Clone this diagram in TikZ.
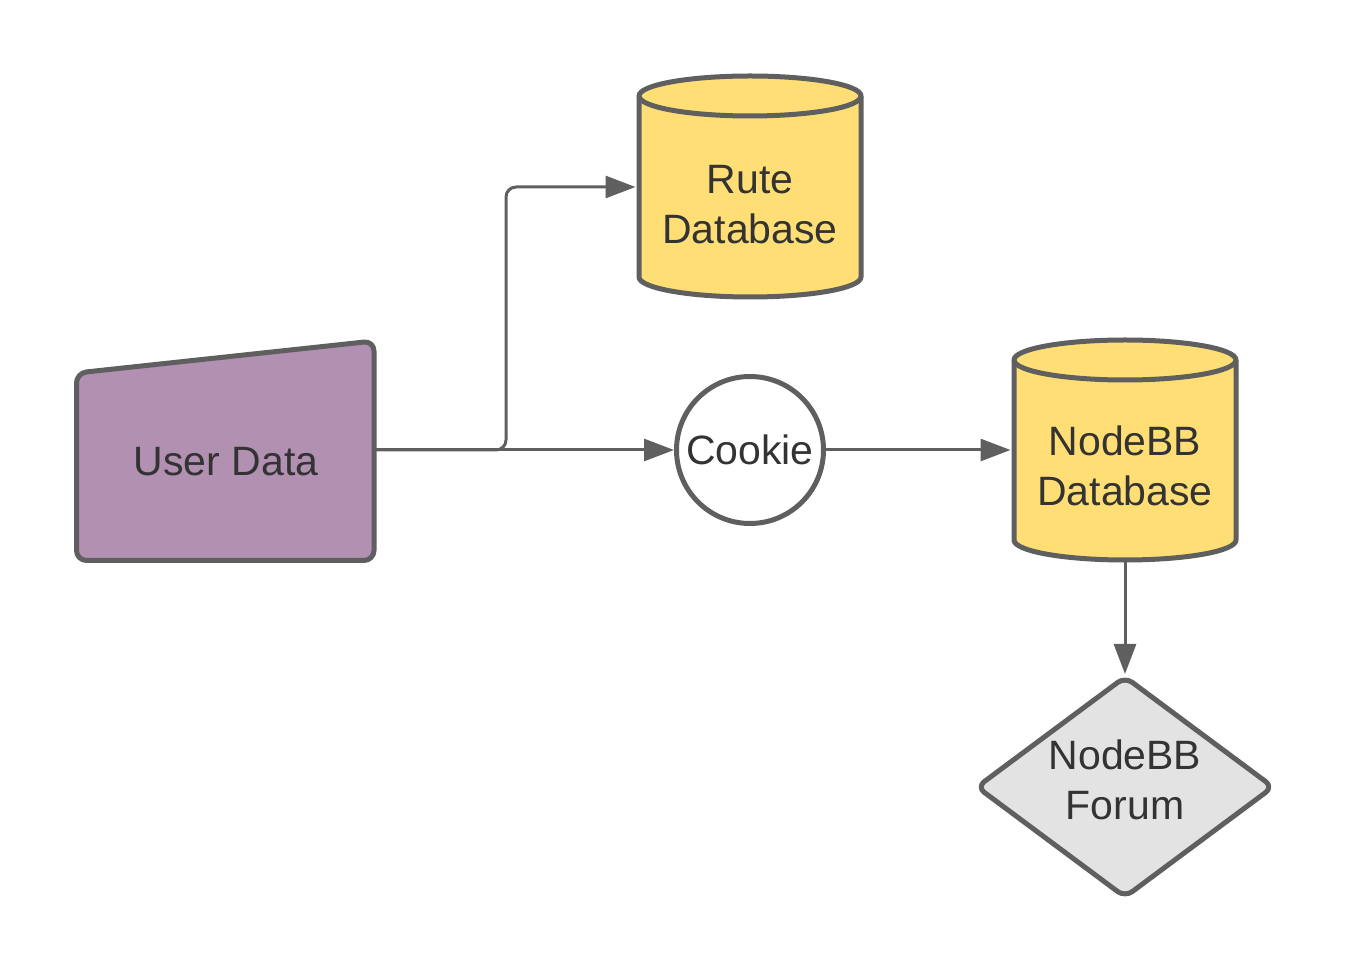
\documentclass[tikz,border=0pt]{standalone}
\usepackage{fontspec}
\setmainfont{Liberation Sans}
\usetikzlibrary{arrows.meta,calc}
\definecolor{strokegray}{HTML}{5F5F5F}
\definecolor{dbyellow}{HTML}{FFDF75}
\definecolor{udpurple}{HTML}{B290B2}
\definecolor{forumgray}{HTML}{E3E3E3}
\definecolor{txtgray}{HTML}{333333}
\newcommand{\dbcyl}[4]{% cx, ytop, ybot, fill
  \filldraw[shapeline,fill=#4] ($(#1-111,#2)$) -- ($(#1-111,#3)$)
    arc[start angle=180,end angle=360,x radius=111,y radius=20]
    -- ($(#1+111,#2)$)
    arc[start angle=0,end angle=180,x radius=111,y radius=20] -- cycle;
  \draw[shapeline] ($(#1-111,#2)$) arc[start angle=180,end angle=360,x radius=111,y radius=20];
}
\begin{document}
\begin{tikzpicture}[x=1pt,y=1pt,
  shapeline/.style={draw=strokegray,line width=5pt,line join=round},
  conn/.style={draw=strokegray,line width=3pt,-{Triangle[length=30pt,width=22pt]}},
  lbl/.style={text=txtgray,font=\fontsize{41}{50}\selectfont,align=center,inner sep=0pt},
  anchorbox/.style={draw=none,inner sep=0pt,outer sep=0pt}]
\useasboundingbox (0,0) rectangle (1350,975);
% User Data trapezoid
\filldraw[shapeline,fill=udpurple,rounded corners=10pt]
  (76.5,414.5) -- (374,414.5) -- (374,634) -- (76.5,602) -- cycle;
\node[anchorbox,minimum width=302pt,minimum height=222pt] (ud) at (225,525) {};
\node[lbl] (udtxt) at (226,513) {User Data};
% Rute Database
\dbcyl{750}{879}{698}{dbyellow}
\node[anchorbox,minimum width=229pt,minimum height=225pt] (rute) at (750,788) {};
\node[lbl] (rutetxt) at (750,770) {Rute\\Database};
% Cookie
\node[shapeline,fill=white,circle,minimum size=147pt,inner sep=0pt,outer sep=2.5pt,lbl] (cookie) at (750,525) {Cookie};
% NodeBB Database
\dbcyl{1125}{615}{435}{dbyellow}
\node[anchorbox,minimum width=229pt,minimum height=225pt] (nbb) at (1125,525) {};
\node[lbl] (nbbtxt) at (1125,509) {NodeBB\\Database};
% Forum diamond
\filldraw[shapeline,fill=forumgray,rounded corners=9pt]
  (1125,298) -- (1273,188) -- (1125,78) -- (977,188) -- cycle;
\node[anchorbox,minimum width=300pt,minimum height=226pt] (forum) at (1125,188) {};
\node[lbl] (forumtxt) at (1125,195) {NodeBB\\Forum};
% connectors
\draw[conn,rounded corners=10pt] (ud.east) -- ++(130,0) |- (rute.west);
\draw[conn] (ud.east) -- (cookie.west);
\draw[conn] (cookie.east) -- (nbb.west);
\draw[conn] (nbb.south) -- (forum.north);
\end{tikzpicture}
\end{document}
